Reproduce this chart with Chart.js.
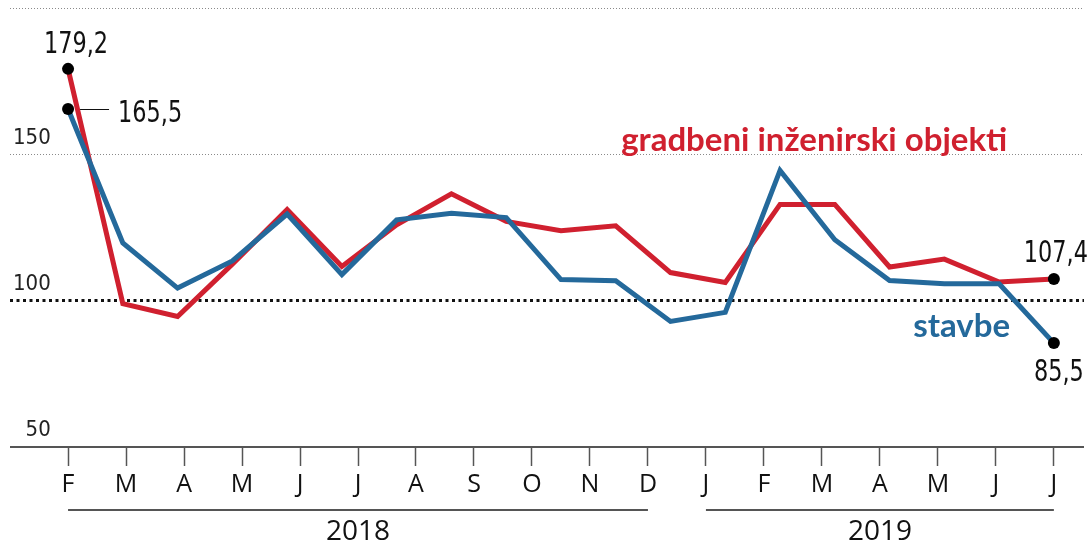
<!DOCTYPE html>
<html>
<head>
<meta charset="utf-8">
<script src="https://cdn.jsdelivr.net/npm/chart.js@4.4.1/dist/chart.umd.min.js"></script>
<style>
html,body{margin:0;padding:0;background:#fff}
#wrap{width:1090px;height:549px;position:relative}
</style>
</head>
<body>
<div id="wrap"><canvas id="c"></canvas></div>
<script>
// ---- data ----
const months = ['F','M','A','M','J','J','A','S','O','N','D','J','F','M','A','M','J','J'];
const years = ['2018','2019'];
const yearFirstMonth = [0, 11];
const yearLastMonth = [10, 17];
const stavbe = [165.5,119.7,104.3,113.6,129.6,108.9,127.6,129.9,128.4,107.2,106.8,92.9,96.0,144.5,120.8,106.9,105.8,105.8,85.5];
const objekti = [179.2,99.0,94.6,112.5,131.1,111.7,125.9,136.5,127.1,123.9,125.6,109.6,106.2,132.9,132.9,111.5,114.2,106.4,107.4];
const yTicks = [50,100,150,200];
const yLabelled = [50,100,150];
const seriesNames = ['stavbe','gradbeni inženirski objekti'];

// ---- style ----
const RED = '#d0202f', BLUE = '#24699b', AXIS = '#555';
const NARROW = '"Liberation Sans Narrow","DejaVu Sans Condensed",sans-serif';
const SANS = '"Open Sans","DejaVu Sans",sans-serif';
const LAST = stavbe.length - 1;
const XMIN = -1.06, XMAX = 18.55;
const monthPos = i => i * LAST / (months.length - 1);
const fmt = v => v.toFixed(1).replace('.', ',');

function narrowText(ctx, t, x, y, align) {
  const sx = 0.83;
  ctx.save();
  ctx.translate(x, y);
  ctx.scale(sx, 1);
  ctx.textAlign = align;
  ctx.fillText(t, 0, 0);
  ctx.restore();
}

const annot = {
  id: 'annot',
  afterDraw(chart) {
    const ctx = chart.ctx, x = chart.scales.x, y = chart.scales.y, yr = chart.scales.yr;
    ctx.save();
    // year underlines
    ctx.strokeStyle = AXIS; ctx.lineWidth = 2;
    years.forEach((yy, i) => {
      const x0 = x.getPixelForValue(monthPos(yearFirstMonth[i]));
      const x1 = x.getPixelForValue(monthPos(yearLastMonth[i]));
      const ly = yr.top + 7;
      ctx.beginPath(); ctx.moveTo(x0, ly); ctx.lineTo(x1, ly); ctx.stroke();
    });
    // value annotations
    ctx.fillStyle = '#111';
    ctx.font = '30px ' + NARROW;
    ctx.textBaseline = 'alphabetic';
    let px = x.getPixelForValue(0), py = y.getPixelForValue(objekti[0]);
    narrowText(ctx, fmt(objekti[0]), px + 8, py - 16, 'center');
    py = y.getPixelForValue(stavbe[0]);
    ctx.strokeStyle = '#111'; ctx.lineWidth = 1;
    ctx.beginPath(); ctx.moveTo(px + 12, Math.round(py) + 0.5); ctx.lineTo(px + 41, Math.round(py) + 0.5); ctx.stroke();
    narrowText(ctx, fmt(stavbe[0]), px + 50, py + 13.5, 'left');
    px = x.getPixelForValue(LAST);
    py = y.getPixelForValue(objekti[LAST]);
    narrowText(ctx, fmt(objekti[LAST]), px + 2, py - 17.5, 'center');
    py = y.getPixelForValue(stavbe[LAST]);
    narrowText(ctx, fmt(stavbe[LAST]), px + 5, py + 37.5, 'center');
    // series names
    ctx.font = 'bold 33px Lato,"Open Sans",sans-serif';
    ctx.textAlign = 'right';
    ctx.fillStyle = RED;
    ctx.fillText(seriesNames[1], x.getPixelForValue(17.15), y.getPixelForValue(151.2));
    ctx.fillStyle = BLUE;
    ctx.fillText(seriesNames[0], x.getPixelForValue(17.2), y.getPixelForValue(87.5));
    ctx.restore();
  }
};

const endRadius = ctx => (ctx.dataIndex === 0 || ctx.dataIndex === LAST) ? 6 : 0;

new Chart(document.getElementById('c'), {
  type: 'line',
  data: {
    datasets: [
      { label: seriesNames[0], data: stavbe.map((v, i) => ({x: i, y: v})), borderColor: BLUE, borderWidth: 5,
        pointRadius: endRadius, pointBackgroundColor: '#000', pointBorderWidth: 0, pointHoverRadius: 0, tension: 0, clip: false },
      { label: seriesNames[1], data: objekti.map((v, i) => ({x: i, y: v})), borderColor: RED, borderWidth: 5,
        pointRadius: endRadius, pointBackgroundColor: '#000', pointBorderWidth: 0, pointHoverRadius: 0, tension: 0, clip: false }
    ]
  },
  options: {
    responsive: true,
    maintainAspectRatio: false,
    animation: false,
    devicePixelRatio: 1,
    layout: { padding: { top: 8, left: 10, right: 4, bottom: 0 } },
    plugins: { legend: { display: false }, tooltip: { enabled: false } },
    events: [],
    scales: {
      x: { type: 'linear', min: XMIN, max: XMAX, bounds: 'data', display: false },
      y: {
        type: 'linear', position: 'left', min: 50, max: 200,
        afterBuildTicks: a => { a.ticks = yTicks.map(v => ({ value: v })); },
        afterFit: a => { a.width = 0; a.paddingTop = 0; a.paddingBottom = 0; },
        grid: {
          drawTicks: false,
          color: c => c.tick.value === 100 ? '#111' : (c.tick.value === 50 ? AXIS : '#8a8a8a'),
          lineWidth: c => c.tick.value === 100 ? 3 : (c.tick.value === 50 ? 2 : 1)
        },
        border: {
          display: false,
          dash: c => c.tick && c.tick.value === 100 ? [3, 3.5] : (c.tick && c.tick.value === 50 ? [] : [1, 2])
        },
        ticks: {
          mirror: true, crossAlign: 'far', padding: 3,
          font: { family: NARROW, size: 22, lineHeight: 1.5 }, color: '#222',
          callback: v => yLabelled.includes(v) ? [String(v), ''] : ''
        }
      },
      xm: {
        type: 'linear', position: 'bottom', min: XMIN, max: XMAX, bounds: 'data',
        afterBuildTicks: a => { a.ticks = months.map((m, i) => ({ value: monthPos(i) })); },
        afterFit: a => { a.height = 56; },
        grid: { display: true, drawOnChartArea: false, drawTicks: true, tickLength: 19, tickWidth: 1.5, tickColor: AXIS, color: AXIS },
        border: { display: false },
        ticks: { autoSkip: false, maxRotation: 0, minRotation: 0, padding: 4,
          font: { family: SANS, size: 25 }, color: '#111', callback: (v, i) => months[i] }
      },
      yr: {
        type: 'linear', position: 'bottom', min: XMIN, max: XMAX, bounds: 'data',
        afterBuildTicks: a => { a.ticks = years.map((yy, i) => ({ value: (monthPos(yearFirstMonth[i]) + monthPos(yearLastMonth[i])) / 2 })); },
        afterFit: a => { a.height = 46; },
        grid: { display: false, drawTicks: false },
        border: { display: false },
        ticks: { autoSkip: false, maxRotation: 0, minRotation: 0, padding: 12,
          font: { family: SANS, size: 28 }, color: '#111', callback: (v, i) => years[i] }
      }
    }
  },
  plugins: [annot]
});
</script>
</body>
</html>
